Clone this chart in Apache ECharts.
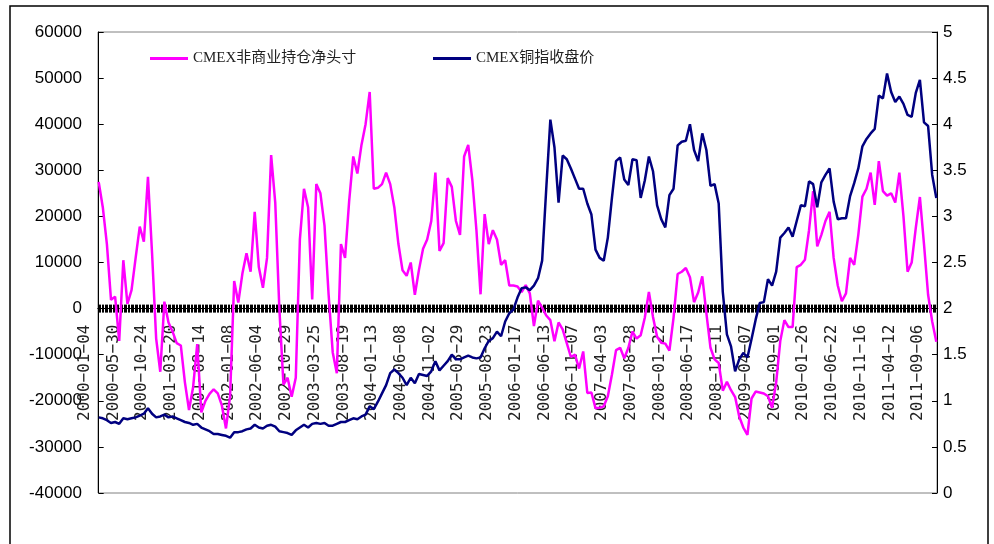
<!DOCTYPE html>
<html>
<head>
<meta charset="utf-8">
<title>CMEX非商业持仓净头寸与铜价</title>
<script src="https://cdn.jsdelivr.net/npm/echarts@6/dist/echarts.min.js"></script>
<style>
html, body { margin: 0; padding: 0; background: #fff; }
#chart { width: 994px; height: 544px; }
</style>
</head>
<body>
<div id="chart"></div>
<script>
// weekly (Tuesday) dates from 2000-01-04, one reading every 3 weeks
var startDate = '2000-01-04';
var weekCount = 613;
var sampleStep = 3;
var labelEvery = 21;

var seriesNames = ['CMEX非商业持仓净头寸', 'CMEX铜指收盘价'];

var netPosition = [
  27500, 22000, 14000, 1900, 2600, -7000, 10500, 1000, 4000, 11000,
  17800, 14500, 28600, 12000, -6500, -13700, 1500, -3000, -5000, -7500,
  -8000, -16000, -22000, -17000, -7700, -22500, -20000, -18500, -17500, -18400,
  -21000, -26000, -19000, 6000, 1300, 7600, 12000, 8000, 21000, 9000,
  4500, 11000, 33300, 23000, 0, -16500, -15000, -19100, -15000, 15000,
  26000, 22000, 2000, 27000, 25000, 18000, 3000, -9500, -14000, 14000,
  11000, 23300, 33000, 29300, 35500, 40000, 47000, 26000, 26200, 27000,
  29500, 27000, 22000, 14000, 8300, 7100, 10000, 3000, 8400, 13000,
  15000, 19000, 29500, 12500, 14200, 28300, 26400, 19000, 16000, 33000,
  35500, 27900, 17000, 3100, 20500, 14000, 17000, 15000, 9500, 10500,
  5000, 5000, 4800, 3600, 5100, 3300, -3800, 1700, 200, -1500,
  -2500, -7100, -3000, -4500, -7500, -10500, -10000, -13000, -9300, -18300,
  -18200, -21600, -21500, -21200, -19000, -14300, -9000, -8500, -10800, -8500,
  -5000, -6500, -5800, -2000, 3600, -1800, -6100, -7400, -7600, -9100,
  -2000, 7500, 8000, 8800, 6800, 1400, 3500, 7000, -1000, -8500,
  -11000, -11800, -17800, -15900, -17700, -19200, -23400, -25800, -27400, -19500,
  -18000, -18200, -18400, -19000, -21500, -16000, -7000, -2500, -4000, -4000,
  9000, 9500, 10600, 17000, 25500, 13500, 16000, 19000, 21000, 11000,
  5000, 1600, 3300, 11000, 9500, 16000, 24300, 26000, 29500, 22500,
  32000, 25500, 24500, 25000, 23000, 29500, 20000, 8000, 10000, 17500,
  24200, 14000, 3000, -2800, -7200
];

var copperPrice = [
  0.82, 0.81, 0.79, 0.76, 0.77, 0.75, 0.81, 0.80, 0.81, 0.82,
  0.84, 0.86, 0.92, 0.86, 0.82, 0.83, 0.85, 0.82, 0.83, 0.81,
  0.79, 0.77, 0.76, 0.74, 0.75, 0.71, 0.69, 0.67, 0.64, 0.64,
  0.63, 0.62, 0.60, 0.66, 0.66, 0.67, 0.69, 0.70, 0.74, 0.71,
  0.70, 0.73, 0.74, 0.72, 0.67, 0.66, 0.65, 0.63, 0.68, 0.71,
  0.74, 0.71, 0.75, 0.76, 0.75, 0.76, 0.73, 0.73, 0.75, 0.77,
  0.77, 0.79, 0.81, 0.80, 0.83, 0.85, 0.94, 0.91, 0.99, 1.08,
  1.17, 1.30, 1.34, 1.30, 1.25, 1.17, 1.25, 1.19, 1.29, 1.28,
  1.27, 1.32, 1.43, 1.33, 1.38, 1.43, 1.50, 1.45, 1.45, 1.47,
  1.49, 1.47, 1.46, 1.47, 1.57, 1.65, 1.68, 1.75, 1.70, 1.86,
  1.95, 1.99, 2.12, 2.22, 2.23, 2.20, 2.25, 2.33, 2.52, 3.30,
  4.05, 3.75, 3.15, 3.66, 3.62, 3.52, 3.41, 3.30, 3.30, 3.14,
  3.02, 2.64, 2.55, 2.52, 2.77, 3.20, 3.60, 3.64, 3.40, 3.34,
  3.62, 3.61, 3.20, 3.39, 3.65, 3.49, 3.12, 2.97, 2.88, 3.23,
  3.30, 3.77, 3.81, 3.82, 4.00, 3.72, 3.60, 3.90, 3.72, 3.33,
  3.35, 3.14, 2.18, 1.72, 1.59, 1.32, 1.45, 1.52, 1.47, 1.67,
  1.88, 2.06, 2.07, 2.32, 2.25, 2.40, 2.77, 2.82, 2.88, 2.78,
  2.95, 3.12, 3.11, 3.38, 3.35, 3.10, 3.37, 3.45, 3.52, 3.16,
  2.97, 2.98, 2.98, 3.22, 3.36, 3.52, 3.76, 3.84, 3.90, 3.95,
  4.31, 4.28, 4.55, 4.35, 4.24, 4.30, 4.22, 4.10, 4.08, 4.34,
  4.48, 4.02, 3.98, 3.45, 3.20
];

var leftAxis = { min: -40000, max: 60000, step: 10000 };
var rightAxis = { min: 0, max: 5, step: 0.5 };

// plot box in pixels
var gridTop = 32, gridBottom = 51, gridLeft = 98, gridRight = 57;
var plotHeight = 544 - gridTop - gridBottom;
// the date axis sits on the zero line of the left axis
var zeroOffset = -plotHeight * (0 - leftAxis.min) / (leftAxis.max - leftAxis.min);

// category list of weeks
var weeks = [];
var t0 = Date.parse(startDate + 'T00:00:00Z');
for (var i = 0; i < weekCount; i++) {
  weeks.push(new Date(t0 + i * 7 * 86400000).toISOString().slice(0, 10));
}

function toPairs(arr) {
  return arr.map(function (v, k) { return [k * sampleStep, v]; });
}

var legendText = {
  fontFamily: '"Liberation Serif", "Noto Sans CJK SC"',
  fontSize: 15,
  color: '#222'
};

var chart = echarts.init(document.getElementById('chart'), null, { renderer: 'canvas' });
var option = {
  animation: false,
  backgroundColor: '#fff',
  graphic: [{
    type: 'rect',
    shape: { x: 10, y: 6, width: 978, height: 600 },
    style: { fill: 'none', stroke: '#000', lineWidth: 1.5 },
    silent: true
  }],
  grid: {
    left: gridLeft, right: gridRight, top: gridTop, bottom: gridBottom,
    containLabel: false,
    outerBoundsMode: 'none',
    show: true, borderColor: '#808080', borderWidth: 1
  },
  legend: [
    {
      data: [seriesNames[0]], left: 145, top: 46,
      icon: 'rect', itemWidth: 38, itemHeight: 3,
      textStyle: legendText
    },
    {
      data: [seriesNames[1]], left: 428, top: 46,
      icon: 'rect', itemWidth: 38, itemHeight: 3,
      textStyle: legendText
    }
  ],
  xAxis: [
    {
      type: 'category',
      data: weeks,
      position: 'bottom',
      offset: zeroOffset,
      boundaryGap: true,
      axisLine: { onZero: false, lineStyle: { color: '#000', width: 1 } },
      axisTick: { show: true, interval: 0, length: 4, lineStyle: { color: '#000', width: 1 } },
      axisLabel: {
        interval: labelEvery - 1,
        showMinLabel: true,
        rotate: 90,
        margin: 16,
        fontFamily: '"DejaVu Sans Mono"',
        fontSize: 16,
        color: '#222',
        verticalAlign: 'bottom',
        lineHeight: 28,
        formatter: function (v) { return v.replace(/-/g, '\u2212'); }
      },
      splitLine: { show: false }
    },
    {
      type: 'category',
      data: weeks,
      position: 'bottom',
      offset: zeroOffset,
      boundaryGap: true,
      axisLine: { onZero: false, lineStyle: { color: '#000', width: 1 } },
      axisTick: { show: true, inside: true, interval: 0, length: 4, lineStyle: { color: '#000', width: 1 } },
      axisLabel: { show: false },
      splitLine: { show: false }
    },
    {
      type: 'value',
      show: false,
      min: -0.5,
      max: weekCount - 0.5
    }
  ],
  yAxis: [
    {
      type: 'value',
      min: leftAxis.min, max: leftAxis.max, interval: leftAxis.step,
      axisLine: { show: true, lineStyle: { color: '#000', width: 1 } },
      axisTick: { show: true, inside: true, length: 5, lineStyle: { color: '#000' } },
      axisLabel: {
        margin: 16, color: '#000', fontFamily: '"Liberation Sans", Arial', fontSize: 17,
        formatter: function (v) { return String(v); }
      },
      splitLine: { show: false }
    },
    {
      type: 'value',
      position: 'right',
      min: rightAxis.min, max: rightAxis.max, interval: rightAxis.step,
      axisLine: { show: true, lineStyle: { color: '#000', width: 1 } },
      axisTick: { show: true, inside: true, length: 5, lineStyle: { color: '#000' } },
      axisLabel: {
        margin: 6, color: '#000', fontFamily: '"Liberation Sans", Arial', fontSize: 17,
        formatter: function (v) { return String(v); }
      },
      splitLine: { show: false }
    }
  ],
  series: [
    {
      name: seriesNames[0],
      type: 'line',
      xAxisIndex: 2,
      yAxisIndex: 0,
      data: toPairs(netPosition),
      showSymbol: false,
      color: '#FF00FF',
      lineStyle: { color: '#FF00FF', width: 2.5 }
    },
    {
      name: seriesNames[1],
      type: 'line',
      xAxisIndex: 2,
      yAxisIndex: 1,
      data: toPairs(copperPrice),
      showSymbol: false,
      color: '#000080',
      lineStyle: { color: '#000080', width: 2.5 }
    }
  ]
};
chart.setOption(option);
window.addEventListener('resize', function () { chart.resize(); });
</script>
</body>
</html>
